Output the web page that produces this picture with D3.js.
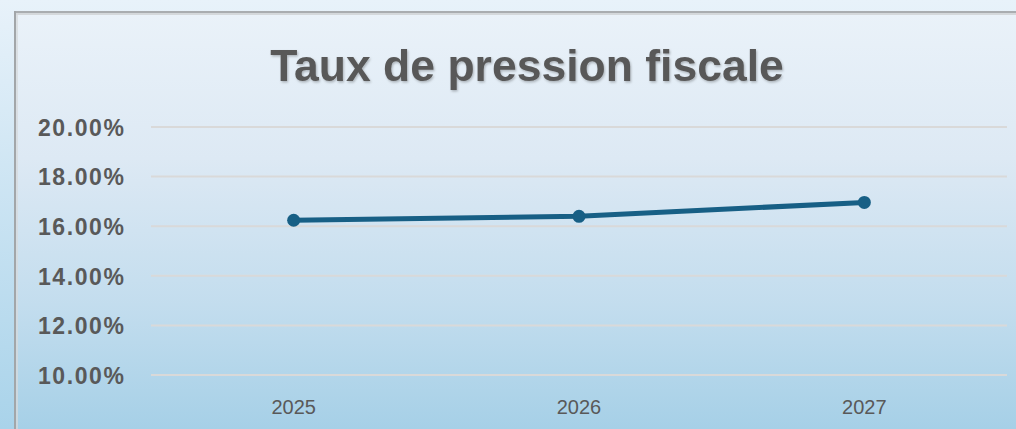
<!DOCTYPE html>
<html>
<head>
<meta charset="utf-8">
<script src="https://cdn.jsdelivr.net/npm/d3@7/dist/d3.min.js"></script>
<style>
  html, body { margin: 0; padding: 0; overflow: hidden; }
  svg { display: block; }
</style>
</head>
<body>
<script>
const title = "Taux de pression fiscale";
const categories = ["2025", "2026", "2027"];
const values = [16.24, 16.40, 16.96];
const yTicks = [10, 12, 14, 16, 18, 20];

const W = 1016, H = 429;
const svg = d3.select("body").append("svg").attr("width", W).attr("height", H);
const defs = svg.append("defs");

const bg = defs.append("linearGradient").attr("id", "bg").attr("x1", 0).attr("y1", 0).attr("x2", 0).attr("y2", 1);
bg.append("stop").attr("offset", "0%").attr("stop-color", "#eaf2f9");
bg.append("stop").attr("offset", "35%").attr("stop-color", "#dde9f4");
bg.append("stop").attr("offset", "70%").attr("stop-color", "#c3ddee");
bg.append("stop").attr("offset", "100%").attr("stop-color", "#a6d0e7");

const bgOut = defs.append("linearGradient").attr("id", "bgOut").attr("x1", 0).attr("y1", 0).attr("x2", 0).attr("y2", 1);
bgOut.append("stop").attr("offset", "0%").attr("stop-color", "#e8f2fa");
bgOut.append("stop").attr("offset", "100%").attr("stop-color", "#a9d3ea");

const sh = defs.append("filter").attr("id", "tshadow").attr("x", "-5%").attr("y", "-20%").attr("width", "110%").attr("height", "140%");
sh.append("feDropShadow").attr("dx", 1).attr("dy", 1.5).attr("stdDeviation", 1.2).attr("flood-color", "#000").attr("flood-opacity", 0.25);

svg.append("rect").attr("width", W).attr("height", H).attr("fill", "url(#bgOut)");
svg.append("rect").attr("x", 15).attr("y", 12).attr("width", W - 15).attr("height", H - 12).attr("fill", "url(#bg)");
// frame borders
svg.append("line").attr("x1", 14).attr("x2", W).attr("y1", 12).attr("y2", 12).attr("stroke", "#a9adb0").attr("stroke-width", 2);
svg.append("line").attr("x1", 16).attr("x2", W).attr("y1", 14).attr("y2", 14).attr("stroke", "#d4d8db").attr("stroke-width", 2);
svg.append("line").attr("x1", 15).attr("x2", 15).attr("y1", 11).attr("y2", H).attr("stroke", "#a2a6a9").attr("stroke-width", 2);
svg.append("line").attr("x1", 17).attr("x2", 17).attr("y1", 13).attr("y2", H).attr("stroke", "#d6dadd").attr("stroke-width", 1.5);

const x = d3.scaleBand().domain(categories).range([151, 1007]).padding(0);
const y = d3.scaleLinear().domain([10, 20]).range([375, 127]);

// gridlines
svg.append("g").selectAll("line").data(yTicks).join("line")
  .attr("x1", 151).attr("x2", 1007)
  .attr("y1", d => y(d)).attr("y2", d => y(d))
  .attr("stroke", "#d9d9d9").attr("stroke-width", 2);

// y axis labels
const yAxis = d3.axisLeft(y).tickValues(yTicks).tickSize(0).tickPadding(0)
  .tickFormat(d => d3.format(".2f")(d) + "%");
const gy = svg.append("g").attr("transform", "translate(125.5,0)").call(yAxis);
gy.select(".domain").remove();
gy.selectAll("text")
  .attr("fill", "#595959")
  .attr("font-family", "'Liberation Sans', Arial, sans-serif")
  .attr("font-weight", "bold")
  .attr("font-size", "23px")
  .attr("letter-spacing", "1.6px")
  .attr("dy", "0.36em");

// x axis labels
const xAxis = d3.axisBottom(x).tickSize(0).tickPadding(0);
const gx = svg.append("g").attr("transform", "translate(0,399)").call(xAxis);
gx.select(".domain").remove();
gx.selectAll("text")
  .attr("fill", "#595959")
  .attr("font-family", "'Liberation Sans', Arial, sans-serif")
  .attr("font-size", "20px")
  .attr("dy", "0.73em");

// line
const line = d3.line().x((d, i) => x(categories[i]) + x.bandwidth() / 2).y(d => y(d));
svg.append("path").datum(values).attr("d", line)
  .attr("fill", "none").attr("stroke", "#175f85").attr("stroke-width", 5)
  .attr("stroke-linejoin", "round").attr("stroke-linecap", "round");
svg.append("g").selectAll("circle").data(values).join("circle")
  .attr("cx", (d, i) => x(categories[i]) + x.bandwidth() / 2)
  .attr("cy", d => y(d))
  .attr("r", 6.5)
  .attr("fill", "#175f85");

// title
svg.append("text").text(title)
  .attr("x", 527).attr("y", 81)
  .attr("text-anchor", "middle")
  .attr("fill", "#595959")
  .attr("font-family", "'Liberation Sans', Arial, sans-serif")
  .attr("font-weight", "bold")
  .attr("font-size", "44.5px")
  .attr("filter", "url(#tshadow)");
</script>
</body>
</html>
